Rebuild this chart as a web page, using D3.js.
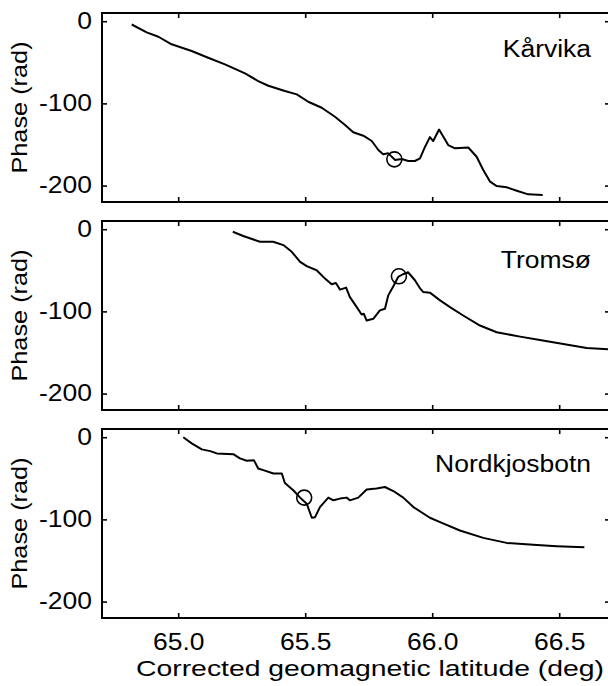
<!DOCTYPE html>
<html>
<head>
<meta charset="utf-8">
<script src="https://cdn.jsdelivr.net/npm/d3@7"></script>
<style>
html,body{margin:0;padding:0;background:#fff;}
svg{display:block;}
text{font-family:"Liberation Sans",Arial,sans-serif;fill:#000;}
</style>
</head>
<body>
<svg id="chart" width="608" height="686"></svg>
<script>
// ---- data ----
const stations = ["Kårvika", "Tromsø", "Nordkjosbotn"];

const karvikaLat = [64.817,64.876,64.922,64.974,65.053,65.118,65.184,65.263,65.315,65.355,65.420,65.467,65.512,65.565,65.617,65.657,65.689,65.729,65.762,65.788,65.807,65.827,65.854,65.880,65.906,65.932,65.952,65.972,65.991,66.004,66.027,66.044,66.063,66.090,66.142,66.175,66.201,66.228,66.254,66.293,66.333,66.378,66.435];
const karvikaPhase = [-4,-13.5,-18.9,-28.1,-36.3,-44.4,-52.5,-63.4,-72.8,-78.5,-84.9,-89,-98,-105.3,-116.2,-126.3,-135.2,-139.3,-145.8,-156.7,-162,-160.8,-168.9,-167.7,-170.1,-170.1,-166.8,-152.7,-141,-145.8,-131.8,-140.6,-150.7,-154.7,-153.7,-164.9,-181.1,-195.3,-200.6,-202.1,-206.3,-210.7,-211.5];

const tromsoLat = [65.215,65.256,65.322,65.374,65.414,65.447,65.480,65.506,65.545,65.578,65.604,65.621,65.637,65.661,65.676,65.703,65.722,65.731,65.742,65.768,65.794,65.814,65.827,65.847,65.866,65.885,65.905,65.932,65.952,65.965,65.991,66.031,66.070,66.122,66.188,66.254,66.346,66.424,66.516,66.608,66.692];
const tromsoPhase = [-3.1,-8.3,-15.3,-15.3,-19.3,-27.5,-39.8,-45,-49.9,-60.1,-67,-65.5,-73.5,-71.1,-82.6,-94.8,-103.7,-102.9,-111.1,-109,-98.8,-96.8,-80.5,-69.5,-58.1,-54.8,-52.4,-62.1,-71.9,-76.5,-77.2,-86.6,-94.8,-105,-117.2,-125.4,-130.7,-134.7,-139.6,-144.5,-146];

const nordLat = [65.020,65.053,65.093,65.126,65.152,65.217,65.243,65.270,65.298,65.315,65.335,65.375,65.408,65.420,65.453,65.480,65.506,65.526,65.539,65.558,65.591,65.611,65.637,65.663,65.676,65.709,65.742,65.781,65.814,65.847,65.886,65.926,65.991,66.031,66.109,66.201,66.293,66.398,66.490,66.599];
const nordPhase = [-0.1,-7.5,-14.8,-16.9,-19.7,-20.6,-25.8,-28.7,-27.9,-38,-40.1,-44.2,-44.2,-55.7,-64.6,-73.5,-80.9,-98,-97.3,-85,-73.5,-76.8,-74.7,-73.5,-76.8,-73.5,-63.7,-62.5,-60.6,-65.5,-73.5,-85,-98,-103.4,-113.5,-122.5,-128.6,-131,-132.7,-134];

const markerLat = [65.851, 65.869, 65.496];
const markerPhase = [-168.1, -57.3, -73.5];

const xTicks = [65.0, 65.5, 66.0, 66.5];
const yTicks = [0, -100, -200];
const xDomain = [64.7, 66.7];
const yDomain = [-220, 10];

// ---- layout ----
const svg = d3.select("#chart");
const left = 102, right = 610;
const panelTop0 = 13, panelStep = 208, panelH = 189;
const FS = "23px";

const x = d3.scaleLinear().domain(xDomain).range([left, right]);

const series = [
  {lat: karvikaLat, phase: karvikaPhase},
  {lat: tromsoLat, phase: tromsoPhase},
  {lat: nordLat, phase: nordPhase}
];

series.forEach((s, i) => {
  const top = panelTop0 + i * panelStep;
  const bottom = top + panelH;
  const y = d3.scaleLinear().domain(yDomain).range([bottom, top]);
  const g = svg.append("g");

  const pts = s.lat.map((v, k) => [v, s.phase[k]]);
  g.append("path")
    .datum(pts)
    .attr("fill", "none")
    .attr("stroke", "#000")
    .attr("stroke-width", 2)
    .attr("stroke-linejoin", "round")
    .attr("d", d3.line().x(d => x(d[0])).y(d => y(d[1])));

  g.append("circle")
    .attr("cx", x(markerLat[i]))
    .attr("cy", y(markerPhase[i]))
    .attr("r", 7.5)
    .attr("fill", "none")
    .attr("stroke", "#000")
    .attr("stroke-width", 1.6);

  const axL = d3.axisLeft(y).tickValues(yTicks).tickSizeInner(-5).tickSizeOuter(0)
    .tickFormat(d => String(d)).tickPadding(10);
  const gl = g.append("g").attr("transform", `translate(${left},0)`).call(axL);
  gl.select(".domain").remove();
  gl.selectAll("line").attr("stroke", "#000").attr("stroke-width", 1.6);
  gl.selectAll("text").attr("class", "lbl").style("font-size", FS).style("font-family", "Liberation Sans, Arial, sans-serif").attr("fill", "#000");

  const axR = d3.axisRight(y).tickValues(yTicks).tickSizeInner(-5).tickSizeOuter(0).tickFormat("");
  const gr = g.append("g").attr("transform", `translate(${right},0)`).call(axR);
  gr.select(".domain").remove();
  gr.selectAll("line").attr("stroke", "#000").attr("stroke-width", 1.6);

  const axT = d3.axisTop(x).tickValues(xTicks).tickSizeInner(-5).tickSizeOuter(0).tickFormat("");
  const gt = g.append("g").attr("transform", `translate(0,${top})`).call(axT);
  gt.select(".domain").remove();
  gt.selectAll("line").attr("stroke", "#000").attr("stroke-width", 1.6);

  const axB = d3.axisBottom(x).tickValues(xTicks).tickSizeInner(-5).tickSizeOuter(0)
    .tickFormat(i === 2 ? d3.format(".1f") : "").tickPadding(16);
  const gb = g.append("g").attr("transform", `translate(0,${bottom})`).call(axB);
  gb.select(".domain").remove();
  gb.selectAll("line").attr("stroke", "#000").attr("stroke-width", 1.6);
  gb.selectAll("text").attr("class", "lbl").style("font-size", FS).style("font-family", "Liberation Sans, Arial, sans-serif").attr("fill", "#000");

  g.append("rect")
    .attr("x", left).attr("y", top)
    .attr("width", right - left).attr("height", panelH)
    .attr("fill", "none").attr("stroke", "#000").attr("stroke-width", 2);

  g.append("text")
    .attr("class", "lbl")
    .attr("x", 591).attr("y", top + [44, 47, 43][i])
    .attr("text-anchor", "end")
    .style("font-size", FS)
    .text(stations[i]);

  g.append("text")
    .attr("class", "lbl")
    .attr("transform", `translate(27,${(top + bottom) / 2}) rotate(-90)`)
    .attr("text-anchor", "middle")
    .style("font-size", "22px")
    .text("Phase (rad)");
});

svg.append("text")
  .attr("x", 370).attr("y", 676)
  .attr("text-anchor", "middle")
  .style("font-size", "22px")
  .attr("textLength", 468)
  .attr("lengthAdjust", "spacingAndGlyphs")
  .text("Corrected geomagnetic latitude (deg)");

// horizontal stretch to mimic the wide Helvetica of the original
svg.selectAll("text.lbl").each(function() {
  const w = this.getComputedTextLength();
  if (w > 0) {
    d3.select(this).attr("textLength", w * 1.15).attr("lengthAdjust", "spacingAndGlyphs");
  }
});
</script>
</body>
</html>
